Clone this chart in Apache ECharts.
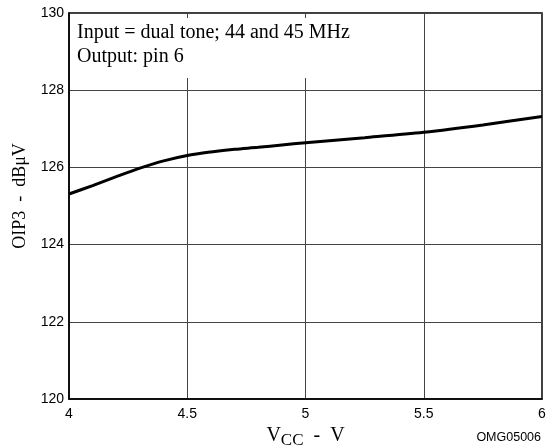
<!DOCTYPE html>
<html>
<head>
<meta charset="utf-8">
<style>
  html, body { margin: 0; padding: 0; background: #fff; }
  #chart { width: 551px; height: 448px; }
</style>
<script src="https://cdn.jsdelivr.net/npm/echarts@6/dist/echarts.min.js"></script>
</head>
<body>
<div id="chart"></div>
<script>
// supply voltage (V) and OIP3 (dBuV)
var vcc = [4.0, 4.1, 4.2, 4.3, 4.4, 4.5, 4.6, 4.7, 4.8, 4.9, 5.0, 5.25, 5.5, 5.75, 6.0];
var oip3 = [125.31, 125.53, 125.76, 125.98, 126.17, 126.31, 126.40, 126.47, 126.52, 126.58, 126.64, 126.77, 126.91, 127.10, 127.32];
var noteLines = ['Input = dual tone; 44 and 45 MHz', 'Output: pin 6'];

var serif = '"Liberation Serif", "DejaVu Serif", serif';
var sans = '"Liberation Sans", Arial, sans-serif';

var myChart = echarts.init(document.getElementById('chart'));

myChart.setOption({
  animation: false,
  grid: {
    left: 69, right: 9, top: 13, bottom: 49,
    outerBoundsMode: 'none',
    show: true, borderColor: '#000', borderWidth: 1.5
  },
  xAxis: {
    type: 'value', min: 4, max: 6, interval: 0.5,
    axisLine: { lineStyle: { color: '#000', width: 1.5 } },
    axisTick: { show: false },
    splitLine: { lineStyle: { color: '#444', width: 1 } },
    axisLabel: { color: '#000', fontFamily: sans, fontSize: 14, margin: 8 },
    name: '{v|V}{s|CC}{v|  -  V}',
    nameLocation: 'middle',
    nameGap: 26,
    nameTextStyle: {
      rich: {
        v: { fontFamily: serif, fontSize: 20, color: '#000', verticalAlign: 'top' },
        s: { fontFamily: serif, fontSize: 17, color: '#000', verticalAlign: 'top', padding: [6, 0, 0, 0] }
      }
    }
  },
  yAxis: {
    type: 'value', min: 120, max: 130, interval: 2,
    axisLine: { lineStyle: { color: '#000', width: 1.5 } },
    axisTick: { show: false },
    splitLine: { lineStyle: { color: '#444', width: 1 } },
    axisLabel: { color: '#000', fontFamily: sans, fontSize: 14, margin: 5 },
    name: 'OIP3  -  dBμV',
    nameLocation: 'middle',
    nameGap: 34,
    nameTextStyle: { fontFamily: serif, fontSize: 18, color: '#000', padding: [0, 0, 0, 20] }
  },
  graphic: [
    {
      type: 'rect', z: 10,
      shape: { x: 70, y: 18, width: 292, height: 60 },
      style: { fill: '#fff' }
    },
    {
      type: 'text', z: 11, left: 77, top: 21,
      style: { text: noteLines.join('\n'), fontFamily: serif, fontSize: 20, lineHeight: 24, fill: '#000' }
    },
    {
      type: 'text', z: 11, right: 10, top: 431,
      style: { text: 'OMG05006', fontFamily: sans, fontSize: 12.5, fill: '#000' }
    }
  ],
  series: [
    {
      type: 'line',
      data: vcc.map(function (v, i) { return [v, oip3[i]]; }),
      smooth: 0.3,
      showSymbol: false,
      lineStyle: { color: '#000', width: 3 },
      z: 5
    }
  ]
});
</script>
</body>
</html>
